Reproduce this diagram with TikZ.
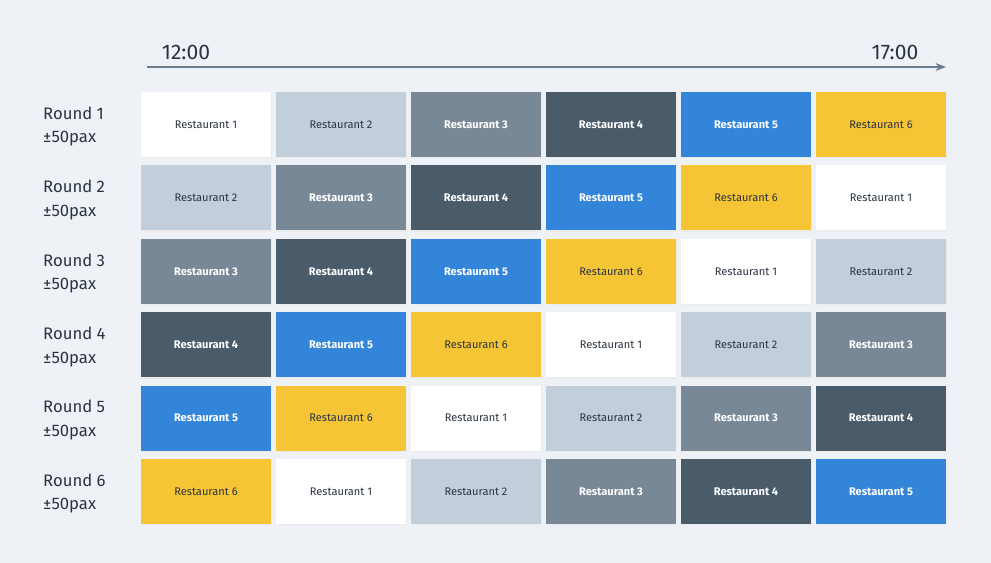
\documentclass[tikz,border=0pt]{standalone}
\usepackage{fontspec}
\setmainfont{Fira Sans}
\usetikzlibrary{arrows.meta}
\definecolor{bgc}{HTML}{EEF2F6}
\definecolor{c0}{HTML}{FFFFFF}
\definecolor{c1}{HTML}{C2CFDB}
\definecolor{c2}{HTML}{798896}
\definecolor{c3}{HTML}{4A5B6A}
\definecolor{c4}{HTML}{3385DA}
\definecolor{c5}{HTML}{F6C535}
\definecolor{txt}{HTML}{2A3440}
\definecolor{axis}{HTML}{6B7C8C}
\begin{document}
\begin{tikzpicture}[x=0.02cm,y=-0.02cm,
  cell/.style={rectangle,minimum width=2.6cm,minimum height=1.3cm,inner sep=0pt,
    font=\fontsize{6.3}{7}\selectfont},
  dark/.style={text=white,font=\fontsize{6.3}{7}\selectfont\bfseries},
  light/.style={text=txt},
  round/.style={anchor=north west,align=left,text=txt,font=\fontsize{9.5}{13.5}\selectfont},
  time/.style={text=txt,font=\fontsize{12}{14}\selectfont}]
\fill[bgc] (0,0) rectangle (991,563);
\useasboundingbox (0,0) rectangle (991,563);
% time axis
\coordinate (t0) at (147,67);
\coordinate (t1) at (946,67);
\draw[axis,line width=1.2pt,-{Stealth[length=6pt]}] (t0) -- (t1);
\node[time] (start) at (186,52) {12:00};
\node[time] (end) at (895,52) {17:00};
% grid of rounds
\foreach \r in {0,...,5}{
  \pgfmathsetmacro{\yy}{124.5+73.4*\r}
  \pgfmathtruncatemacro{\rr}{\r+1}
  \node[round] (round\rr) at (37,\yy-24) {Round \rr\\±50pax};
  \foreach \c in {0,...,5}{
    \pgfmathtruncatemacro{\k}{mod(\r+\c,6)}
    \pgfmathtruncatemacro{\n}{\k+1}
    \pgfmathsetmacro{\xx}{206+135*\c}
    \ifnum\k=0 \def\sty{light}\else\ifnum\k=1 \def\sty{light}\else\ifnum\k=5 \def\sty{light}\else\def\sty{dark}\fi\fi\fi
    \fill[black!8] (\xx-64,\yy-31) rectangle (\xx+66,\yy+34);
    \node[cell,fill=c\k,\sty] (cell\rr\c) at (\xx,\yy) {Restaurant \n};
  }
}
\end{tikzpicture}
\end{document}
